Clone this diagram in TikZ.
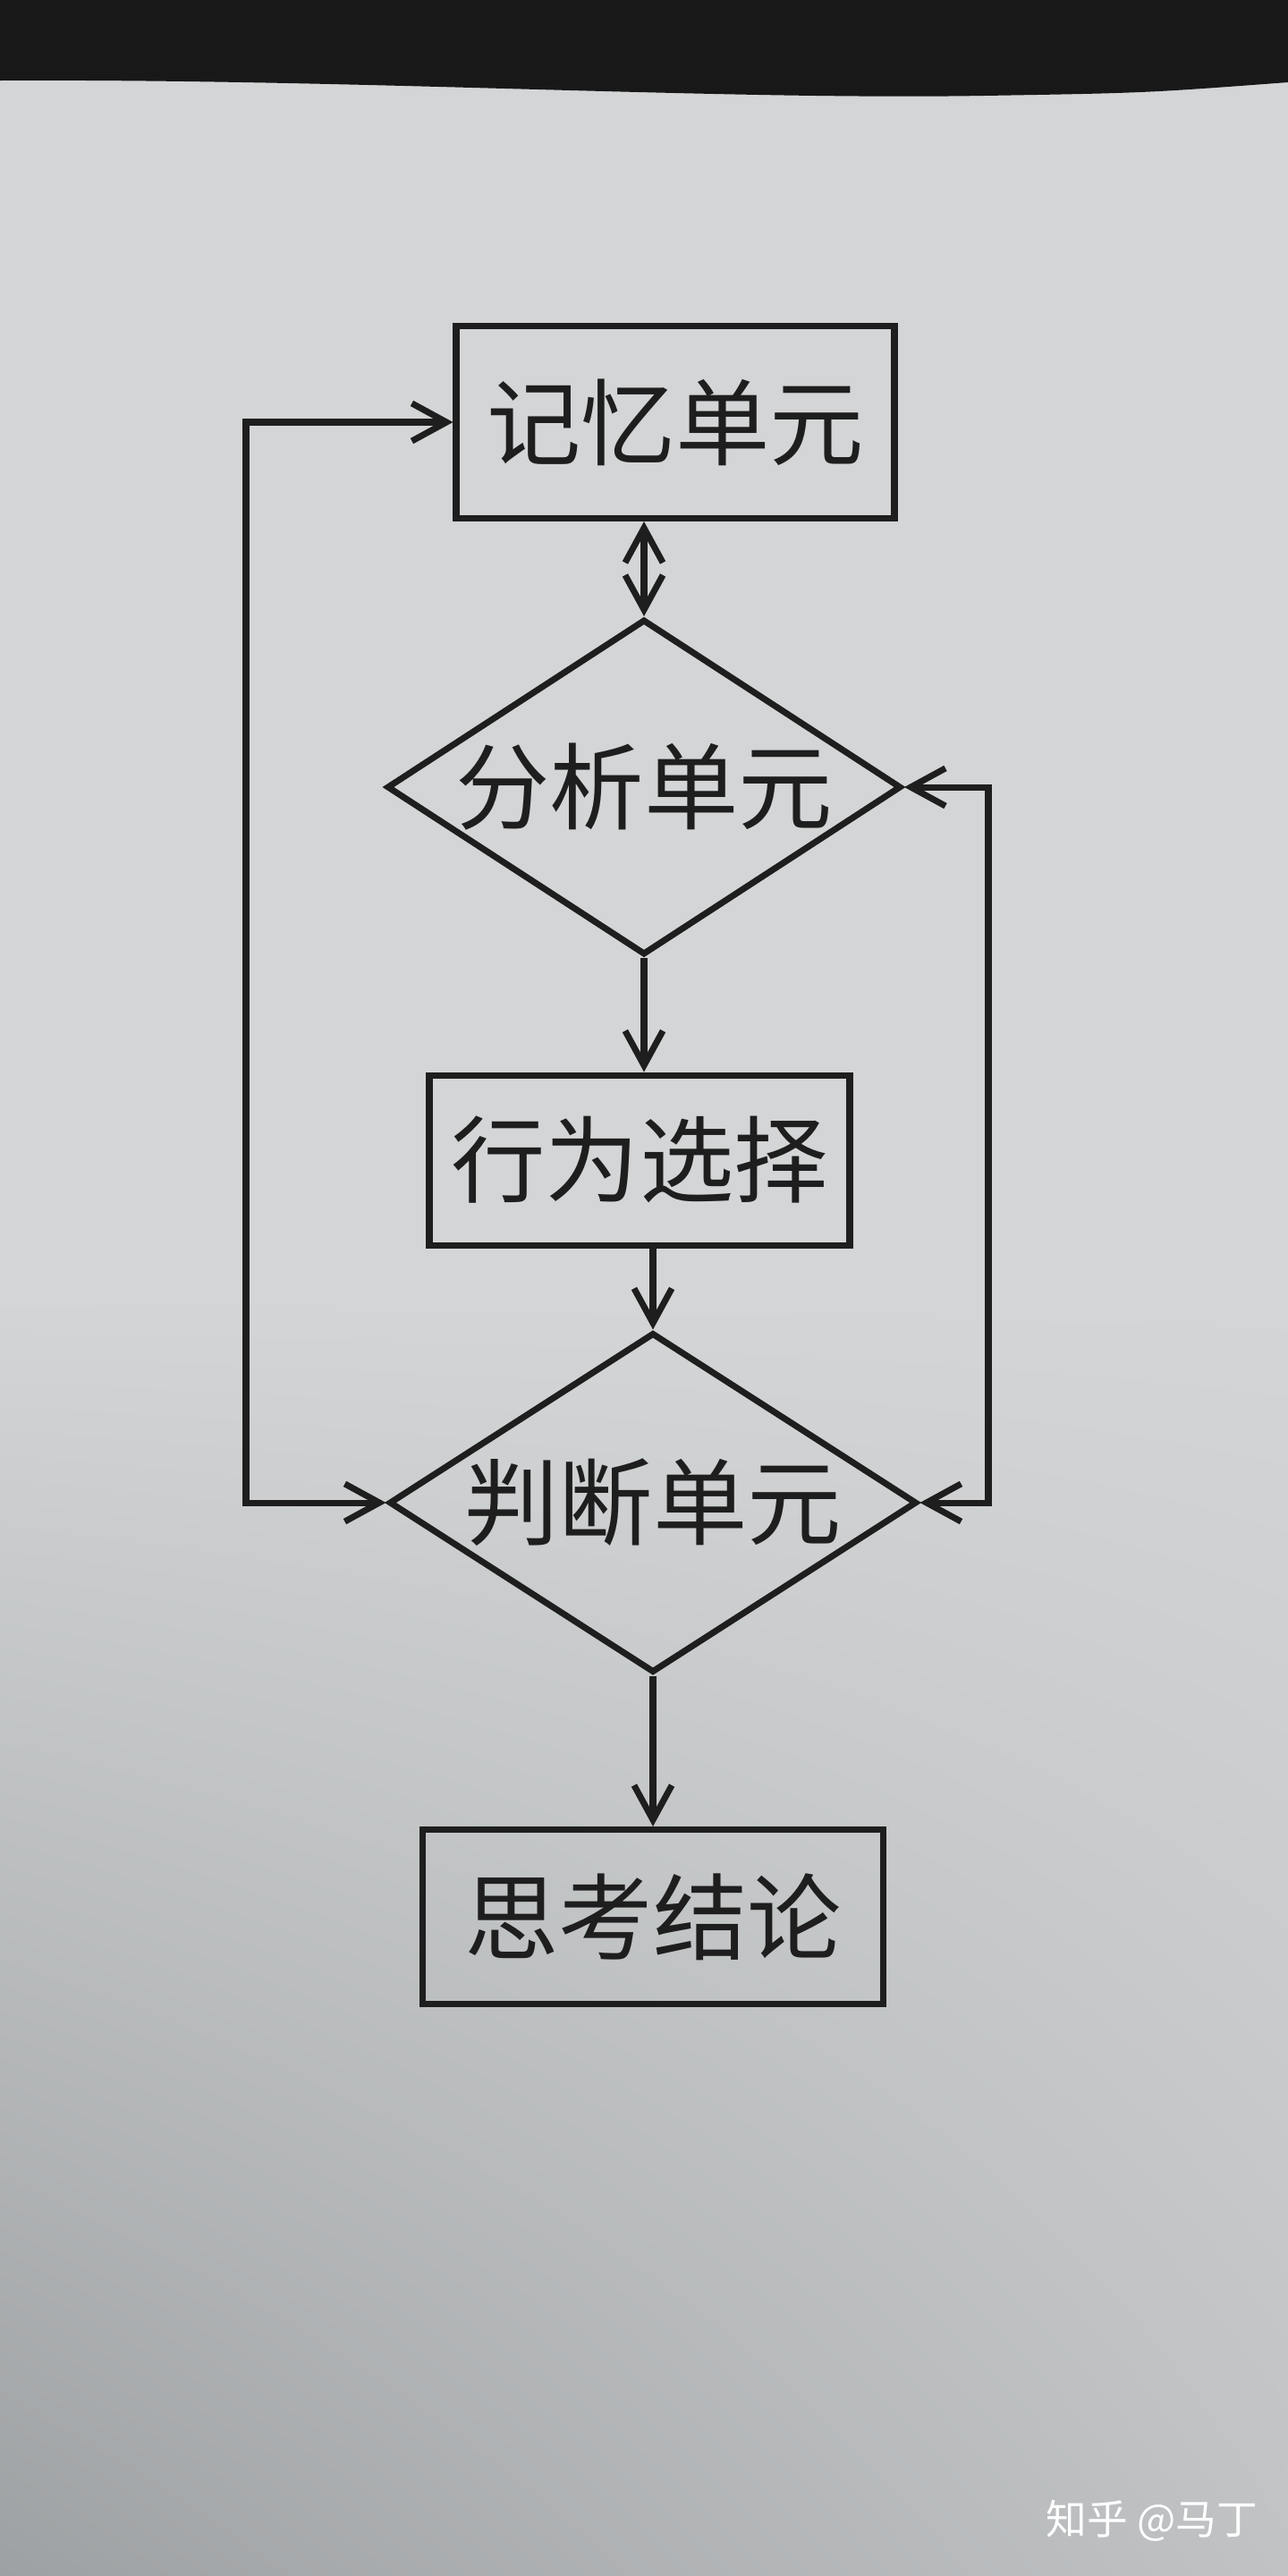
\documentclass[tikz,border=0pt]{standalone}
\usepackage{fontspec}
\usepackage{xcolor}
\newfontfamily\cjk{Noto Sans CJK SC}
\definecolor{paper}{RGB}{211,213,214}
\definecolor{paperlo}{RGB}{192,194,196}
\definecolor{papershade}{RGB}{158,161,163}
\definecolor{band}{RGB}{24,24,24}
\definecolor{ink}{RGB}{30,30,30}
\usetikzlibrary{arrows.meta,shapes.geometric,shadings,positioning}
\tikzset{
  unit/.style={rectangle, draw=ink, line width=2pt, text=ink, font=\cjk\fontsize{30}{36}\selectfont, inner sep=0pt},
  decide/.style={diamond, aspect=1.55, draw=ink, line width=2pt, text=ink, font=\cjk\fontsize{30}{36}\selectfont, inner sep=0pt, minimum width=5.75cm, minimum height=3.75cm},
  wmark/.style={text=white, font=\cjk\fontsize{13}{15}\selectfont, inner sep=0pt},
  line/.style={draw=ink, line width=2pt},
}

\begin{document}
\begin{tikzpicture}[>={Straight Barb[length=11pt,width=12pt]}]
  \useasboundingbox (0,0) rectangle (14.4,-28.8);

  %paper and shadow
  \fill[paper] (0,0) rectangle (14.4,-28.8);
  \shade[upper left=paper, upper right=paper, lower left=papershade, lower right=paperlo] (0,-14.5) rectangle (14.4,-28.8);
  \fill[band] (0,0) -- (0,-0.9) .. controls (4,-0.88) and (8,-1.12) .. (11,-1.07) .. controls (12.8,-1.04) .. (14.4,-0.92) -- (14.4,0) -- cycle;

  \node[unit, minimum width=4.9cm, minimum height=2.15cm] (mem) at (7.55,-4.72) {记忆单元};
  \node[decide] (ana) at (7.2,-8.8) {分析单元};
  \node[unit, minimum width=4.7cm, minimum height=1.9cm] (act) at (7.15,-12.97) {行为选择};
  \node[decide, minimum width=5.9cm, minimum height=3.8cm] (jud) at (7.3,-16.8) {判断单元};
  \node[unit, minimum width=5.15cm, minimum height=1.95cm] (con) at (7.3,-21.43) {思考结论};

  %loop corners
  \coordinate (lx) at (2.75,0);
  \coordinate (rx) at (11.05,0);

  \node[wmark] (zh) at (12.88,-28.18) {知乎 @马丁};

  %main chain
  \draw[line,<->] (ana.north) -- (ana.north |- mem.south);
  \draw[line,->] (ana.south) -- (ana.south |- act.north);
  \draw[line,->] (act.south -| jud.north) -- (jud.north);
  \draw[line,->] (jud.south) -- (jud.south |- con.north);

  %feedback to memory
  \draw[line,<->] (jud.west) -| (lx |- mem.west) -- (mem.west);
  %feedback to analysis
  \draw[line,<->] (jud.east) -| (rx |- ana.east) -- (ana.east);
\end{tikzpicture}
\end{document}
